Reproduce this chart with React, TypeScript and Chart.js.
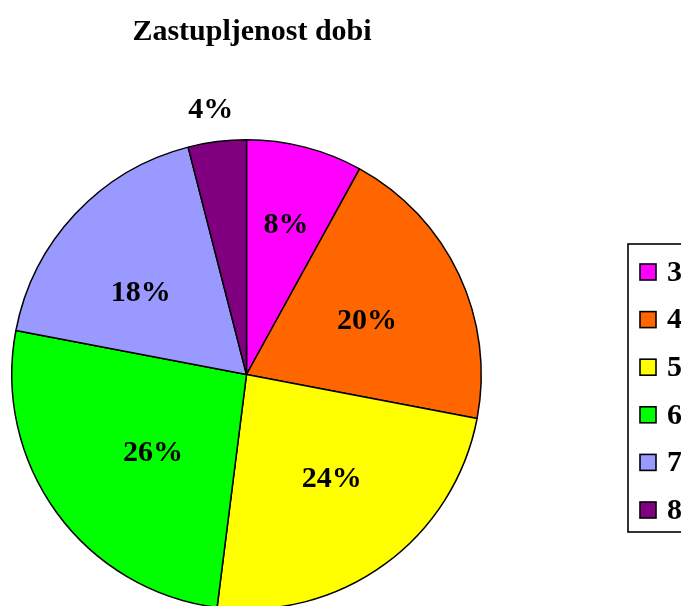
import React, { useEffect, useRef } from "react";
import { Chart, registerables } from "chart.js";

Chart.register(...registerables);

const titleText = "Zastupljenost dobi";
const categories = ["30-39", "40-49", "50-59", "60-69", "70-79", "80-89"];
const shares = [8, 20, 24, 26, 18, 4];
const sliceColors = ["#FF00FF", "#FF6600", "#FFFF00", "#00FF00", "#9999FF", "#800080"];

const FONT = '"Liberation Serif", "Times New Roman", serif';
const CANVAS_H = 620;

const overlayPlugin = {
  id: "overlay",
  afterDraw(chart: any) {
    const ctx = chart.ctx as CanvasRenderingContext2D;
    const meta = chart.getDatasetMeta(0);
    const data = chart.data.datasets[0].data as number[];
    const total = data.reduce((a, b) => a + b, 0);
    const ratios = [0.66, 0.56, 0.57, 0.52, 0.575, 1.14];
    const angleShift = [0, 0.6, -3, -3.3, -5.4, -0.7];
    ctx.save();
    // title
    ctx.fillStyle = "#000";
    ctx.font = `bold 30px ${FONT}`;
    ctx.textAlign = "center";
    ctx.textBaseline = "alphabetic";
    ctx.fillText(titleText, 252, 40);

    // percentage labels
    ctx.font = `bold 30px ${FONT}`;
    ctx.textBaseline = "middle";
    meta.data.forEach((arc: any, i: number) => {
      const p = arc.getProps(["x", "y", "startAngle", "endAngle", "outerRadius"], true);
      const mid = (p.startAngle + p.endAngle) / 2 + (angleShift[i] * Math.PI) / 180;
      const r = p.outerRadius * ratios[i];
      const x = p.x + Math.cos(mid) * r;
      const y = p.y + Math.sin(mid) * r;
      const pct = Math.round((data[i] / total) * 100) + "%";
      ctx.fillText(pct, x + 1, y + 1);
    });

    // legend
    const bx = 628, by = 244, bh = 288;
    ctx.lineWidth = 1.6;
    ctx.strokeStyle = "#000";
    ctx.fillStyle = "#fff";
    ctx.fillRect(bx, by, 200, bh);
    ctx.strokeRect(bx, by, 200, bh);
    ctx.textAlign = "left";
    const labels = chart.data.labels as string[];
    labels.forEach((lab, i) => {
      const cy = 272 + i * 47.6;
      ctx.fillStyle = sliceColors[i];
      ctx.fillRect(640, cy - 8, 16, 16);
      ctx.lineWidth = 1.6;
      ctx.strokeRect(640, cy - 8, 16, 16);
      ctx.fillStyle = "#000";
      ctx.fillText(lab, 667, cy + 1);
    });
    ctx.restore();
  },
};

export default function App() {
  const ref = useRef<HTMLCanvasElement>(null);
  useEffect(() => {
    if (!ref.current) return;
    const chart = new Chart(ref.current, {
      type: "pie",
      data: {
        labels: categories,
        datasets: [
          {
            data: shares,
            backgroundColor: sliceColors,
            borderColor: "#000",
            borderWidth: 1.5,
          },
        ],
      },
      options: {
        responsive: false,
        animation: false,
        layout: { padding: { left: 11, right: 199, top: 138, bottom: CANVAS_H - 611 } },
        plugins: {
          legend: { display: false },
          title: { display: false },
          tooltip: { enabled: false },
        },
      },
      plugins: [overlayPlugin],
    });
    return () => chart.destroy();
  }, []);
  return (
    <div
      style={{
        position: "fixed",
        left: 0,
        top: 0,
        width: 681,
        height: 606,
        overflow: "hidden",
        background: "#fff",
      }}
    >
      <canvas ref={ref} width={681} height={CANVAS_H} style={{ display: "block" }} />
    </div>
  );
}
